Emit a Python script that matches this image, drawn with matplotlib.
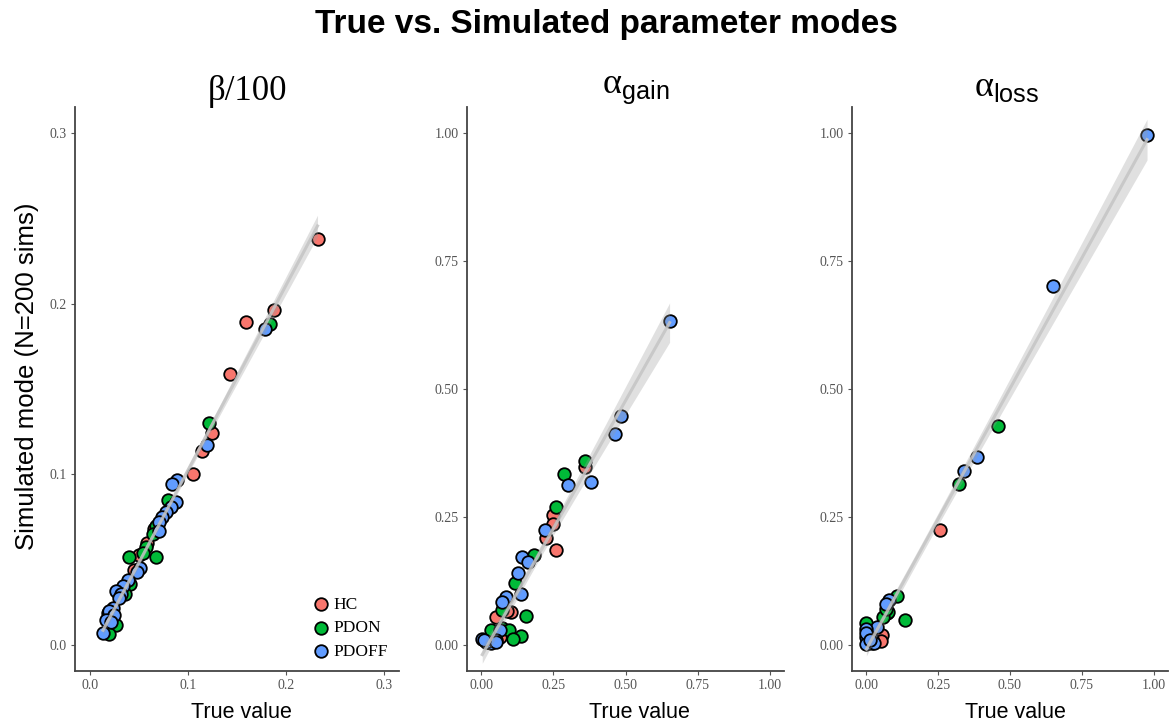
import numpy as np
import matplotlib
matplotlib.use("Agg")
import matplotlib.pyplot as plt

plt.rcParams['mathtext.fontset'] = 'custom'
plt.rcParams['mathtext.rm'] = 'Liberation Sans'
plt.rcParams['mathtext.sf'] = 'Liberation Sans'

groups = ['HC', 'PDON', 'PDOFF']
colors = {'HC': '#F8766D', 'PDON': '#00BA38', 'PDOFF': '#619CFF'}

# beta/100 : (true, simulated) per group
beta_hc_true = [0.232, 0.188, 0.159, 0.143, 0.125, 0.114, 0.105, 0.065, 0.058, 0.050, 0.045]
beta_hc_sim = [0.238, 0.196, 0.189, 0.159, 0.124, 0.114, 0.100, 0.068, 0.060, 0.053, 0.044]
beta_pdon_true = [0.184, 0.121, 0.080, 0.068, 0.064, 0.057, 0.040, 0.068, 0.054, 0.041, 0.036,
                  0.019, 0.024, 0.027, 0.020]
beta_pdon_sim = [0.188, 0.130, 0.085, 0.0696, 0.065, 0.0575, 0.0517, 0.0517, 0.054, 0.036, 0.030,
                 0.0187, 0.0135, 0.0117, 0.0064]
beta_pdoff_true = [0.179, 0.119, 0.0885, 0.0834, 0.0875, 0.083, 0.0773, 0.074, 0.071, 0.071, 0.051,
                   0.048, 0.039, 0.034, 0.027, 0.032, 0.030, 0.024, 0.020, 0.025, 0.017, 0.022, 0.0135]
beta_pdoff_sim = [0.185, 0.117, 0.097, 0.0947, 0.0836, 0.081, 0.0778, 0.075, 0.072, 0.067, 0.045,
                  0.043, 0.038, 0.035, 0.032, 0.030, 0.028, 0.022, 0.020, 0.0175, 0.015, 0.0134, 0.007]

# alpha gain
gain_hc_true = [0.361, 0.248, 0.248, 0.225, 0.258, 0.104, 0.052, 0.063, 0.090]
gain_hc_sim = [0.348, 0.254, 0.236, 0.209, 0.186, 0.065, 0.055, 0.016, 0.067]
gain_pdon_true = [0.358, 0.285, 0.260, 0.184, 0.115, 0.073, 0.153, 0.073, 0.097, 0.139, 0.108, 0.035]
gain_pdon_sim = [0.359, 0.334, 0.270, 0.176, 0.121, 0.068, 0.057, 0.033, 0.029, 0.019, 0.013, 0.029]
gain_pdoff_true = [0.653, 0.486, 0.465, 0.302, 0.382, 0.219, 0.142, 0.160, 0.128, 0.139, 0.087,
                   0.073, 0.063, 0.049, 0.003, 0.021, 0.035, 0.017, 0.052, 0.010]
gain_pdoff_sim = [0.633, 0.447, 0.412, 0.312, 0.319, 0.225, 0.172, 0.162, 0.141, 0.101, 0.094,
                  0.084, 0.029, 0.010, 0.013, 0.006, 0.004, 0.006, 0.006, 0.010]

# alpha loss
loss_hc_true = [0.258, 0.056, 0.073, 0.052]
loss_hc_sim = [0.225, 0.021, 0.064, 0.008]
loss_pdon_true = [0.457, 0.321, 0.108, 0.077, 0.059, 0.133, 0.0, 0.070, 0.020]
loss_pdon_sim = [0.428, 0.314, 0.096, 0.066, 0.055, 0.049, 0.043, 0.070, 0.004]
loss_pdoff_true = [0.977, 0.649, 0.384, 0.339, 0.080, 0.070, 0.038, 0.0, 0.0, 0.0, 0.021, 0.028,
                   0.0, 0.012]
loss_pdoff_sim = [0.996, 0.701, 0.367, 0.340, 0.088, 0.080, 0.035, 0.031, 0.017, 0.003, 0.013,
                  0.004, 0.024, 0.010]

panels = [
    {'true': [beta_hc_true, beta_pdon_true, beta_pdoff_true],
     'sim': [beta_hc_sim, beta_pdon_sim, beta_pdoff_sim],
     'ticks': [0, 0.1, 0.2, 0.3], 'labels': ['0.0', '0.1', '0.2', '0.3'],
     'lim': (-0.015, 0.315)},
    {'true': [gain_hc_true, gain_pdon_true, gain_pdoff_true],
     'sim': [gain_hc_sim, gain_pdon_sim, gain_pdoff_sim],
     'ticks': [0, 0.25, 0.5, 0.75, 1.0], 'labels': ['0.00', '0.25', '0.50', '0.75', '1.00'],
     'lim': (-0.05, 1.05)},
    {'true': [loss_hc_true, loss_pdon_true, loss_pdoff_true],
     'sim': [loss_hc_sim, loss_pdon_sim, loss_pdoff_sim],
     'ticks': [0, 0.25, 0.5, 0.75, 1.0], 'labels': ['0.00', '0.25', '0.50', '0.75', '1.00'],
     'lim': (-0.05, 1.05)},
]

W, H = 1172, 725
fig = plt.figure(figsize=(W / 100, H / 100), dpi=100)

# axes boxes in pixels: left, right
boxes = [(75, 399), (467, 784), (852, 1168)]
top, bottom = 107, 671

def lm_band(x, y, xs):
    x = np.asarray(x)
    y = np.asarray(y)
    n = len(x)
    b, a = np.polyfit(x, y, 1)
    resid = y - (a + b * x)
    s = np.sqrt(np.sum(resid ** 2) / (n - 2))
    se = s * np.sqrt(1 / n + (xs - x.mean()) ** 2 / np.sum((x - x.mean()) ** 2))
    fit = a + b * xs
    return fit, fit - 1.98 * se, fit + 1.98 * se

axes = []
for p, (l, r) in zip(panels, boxes):
    ax = fig.add_axes([l / W, 1 - bottom / H, (r - l) / W, (bottom - top) / H])
    for g, xt, ys in zip(groups, p['true'], p['sim']):
        ax.scatter(xt, ys, s=82, c=colors[g], edgecolors='black', linewidths=1.3,
                   zorder=3, label=g)
    allx = np.concatenate([np.asarray(v) for v in p['true']])
    ally = np.concatenate([np.asarray(v) for v in p['sim']])
    xs = np.linspace(allx.min(), allx.max(), 100)
    fit, lo, hi = lm_band(allx, ally, xs)
    ax.fill_between(xs, lo, hi, color='#999999', alpha=0.3, lw=0, zorder=4)
    ax.plot(xs, fit, color='#c4c4c4', lw=2.2, alpha=0.85, zorder=5)

    ax.set_xlim(p['lim'])
    ax.set_ylim(p['lim'])
    ax.set_xticks(p['ticks'])
    ax.set_yticks(p['ticks'])
    ax.set_xticklabels(p['labels'], family='Liberation Serif', fontsize=10, color='#555555')
    ax.set_yticklabels(p['labels'], family='Liberation Serif', fontsize=10, color='#555555')
    ax.tick_params(length=3, width=0.8, color='#555555', pad=3)
    for side in ['top', 'right']:
        ax.spines[side].set_visible(False)
    for side in ['left', 'bottom']:
        ax.spines[side].set_color('#444444')
        ax.spines[side].set_linewidth(1.3)
    axes.append(ax)

leg = axes[0].legend(loc='lower left', bbox_to_anchor=(0.697, 0.008), frameon=False,
                     prop={'family': 'Liberation Serif', 'size': 12.5},
                     handlelength=1.5, handletextpad=0.0, labelspacing=0.42, borderaxespad=0)

fig.text(606 / W, 1 - 24 / H, 'True vs. Simulated parameter modes', ha='center', va='center',
         family='Liberation Sans', fontweight='bold', fontsize=24)

fig.text(247 / W, 1 - 92 / H, 'β/100', ha='center', va='center',
         family='Liberation Serif', fontsize=25)
fig.text(636 / W, 1 - 90 / H, r'α$_{\mathrm{gain}}$', ha='center', va='center',
         family='Liberation Serif', fontsize=26)
fig.text(1007 / W, 1 - 87 / H, r'α$_{\mathrm{loss}}$', ha='center', va='center',
         family='Liberation Serif', fontsize=26)

for cx in [241, 639, 1015]:
    fig.text(cx / W, 1 - 712 / H, 'True value', ha='center', va='center',
             family='Liberation Sans', fontsize=15.5)

fig.text(27 / W, 1 - 376 / H, 'Simulated mode (N=200 sims)', ha='center', va='center',
         rotation=90, family='Liberation Sans', fontsize=18.5)

fig.savefig('out.png', dpi=100)
